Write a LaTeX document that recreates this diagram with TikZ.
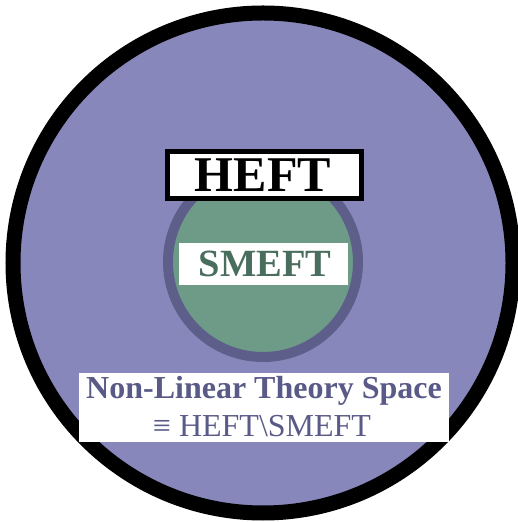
\documentclass[tikz,border=0pt]{standalone}
\usepackage{fontspec}
\setmainfont{Liberation Serif}
\definecolor{outerfill}{RGB}{136,135,187}
\definecolor{innerfill}{RGB}{110,155,135}
\definecolor{innerring}{RGB}{94,94,138}
\definecolor{smefttext}{RGB}{74,110,94}
\definecolor{nltext}{RGB}{90,90,136}
\tikzset{
  labelbox/.style={draw=none, fill=white, inner sep=0pt},
}
\begin{document}
\begin{tikzpicture}[x=1pt,y=1pt]
\useasboundingbox (0,0) rectangle (517,522);
% outer theory space
\draw[line width=15pt, fill=outerfill] (263,259) circle (250);
% SMEFT disc
\draw[line width=10pt, draw=innerring, fill=innerfill] (263,260) circle (95);
% HEFT label
\node[draw=black, line width=5pt, fill=white, minimum width=194pt, minimum height=47pt, inner sep=0pt] (heftbox) at (264.5,347) {};
\node[anchor=base, inner sep=0pt] (heft) at (263,330) {\fontsize{50}{52}\selectfont\bfseries HEFT};
% SMEFT label
\node[labelbox, minimum width=169pt, minimum height=42pt] (smeftbox) at (263.5,258) {};
\node[anchor=base, inner sep=0pt, text=smefttext] (smeft) at (265,245) {\fontsize{38.5}{40}\selectfont\bfseries SMEFT};
% Non-linear label
\node[labelbox, minimum width=370pt, minimum height=69pt] (nlbox) at (264,114.5) {};
\node[anchor=base, inner sep=0pt, text=nltext] (nl1) at (264,123) {\fontsize{32}{36}\selectfont\bfseries Non-Linear Theory Space};
\node[anchor=base, inner sep=0pt, text=nltext] (nl2) at (262,85) {\fontsize{32}{36}\selectfont ≡ HEFT\textbackslash SMEFT};
\end{tikzpicture}
\end{document}
